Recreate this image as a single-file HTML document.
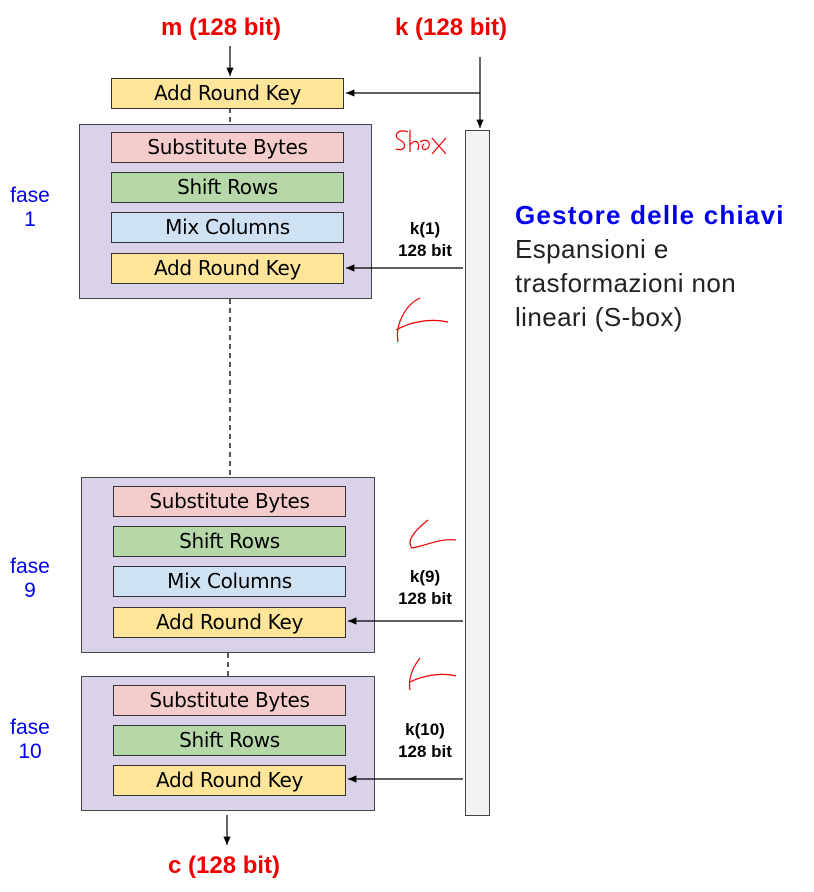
<!DOCTYPE html>
<html><head><meta charset="utf-8"><style>
body{margin:0;background:#fff;width:814px;height:892px;position:relative;overflow:hidden;font-family:"Liberation Sans",sans-serif}
.a{position:absolute}
.p{position:absolute;background:#d9d2e9;border:1.5px solid #444;box-sizing:border-box}
.b{position:absolute;width:233px;height:31px;border:1.5px solid #333;box-sizing:border-box;text-align:center;font-family:"DejaVu Sans",sans-serif;font-size:20px;line-height:29px;color:#000;letter-spacing:-0.3px}
.y{background:#ffe599}.r{background:#f4cccc}.g{background:#b6d7a8}.c{background:#cfe2f3}
.red{color:#e00;font-weight:bold;font-size:24px}
.f{color:#0000ee;font-size:21px;text-align:center;width:60px}
.k{font-weight:bold;font-size:17px;text-align:center;width:80px;line-height:22px}
</style></head><body>
<div class="a red" style="left:161px;top:14px">m (128 bit)</div>
<div class="a red" style="left:395px;top:14px">k (128 bit)</div>
<div class="a red" style="left:168px;top:852px">c (128 bit)</div>

<div class="b y" style="left:111px;top:78px">Add Round Key</div>

<div class="p" style="left:79px;top:124px;width:293px;height:175px"></div>
<div class="b r" style="left:111px;top:132px">Substitute Bytes</div>
<div class="b g" style="left:111px;top:172px">Shift Rows</div>
<div class="b c" style="left:111px;top:212px">Mix Columns</div>
<div class="b y" style="left:111px;top:253px">Add Round Key</div>

<div class="p" style="left:81px;top:477px;width:294px;height:176px"></div>
<div class="b r" style="left:113px;top:486px">Substitute Bytes</div>
<div class="b g" style="left:113px;top:526px">Shift Rows</div>
<div class="b c" style="left:113px;top:566px">Mix Columns</div>
<div class="b y" style="left:113px;top:607px">Add Round Key</div>

<div class="p" style="left:81px;top:676px;width:294px;height:135px"></div>
<div class="b r" style="left:113px;top:685px">Substitute Bytes</div>
<div class="b g" style="left:113px;top:725px">Shift Rows</div>
<div class="b y" style="left:113px;top:765px">Add Round Key</div>

<div class="a" style="left:465px;top:130px;width:25px;height:686px;background:#f3f3f3;border:1.5px solid #444;box-sizing:border-box"></div>

<div class="a f" style="left:0;top:184px">fase<br>1</div>
<div class="a f" style="left:0;top:555px">fase<br>9</div>
<div class="a f" style="left:0;top:716px">fase<br>10</div>

<div class="a k" style="left:385px;top:218px">k(1)<br>128 bit</div>
<div class="a k" style="left:385px;top:566px">k(9)<br>128 bit</div>
<div class="a k" style="left:385px;top:719px">k(10)<br>128 bit</div>

<div class="a" style="left:515px;top:198px;font-size:26px;line-height:34px;color:#222;letter-spacing:0.4px;white-space:nowrap">
<b style="color:#0000ee;font-size:26px;letter-spacing:1.2px">Gestore delle chiavi</b><br>Espansioni e<br>trasformazioni non<br>lineari (S-box)</div>

<svg class="a" style="left:0;top:0" width="814" height="892">
<defs><marker id="ar" markerWidth="8" markerHeight="8" refX="7" refY="4" orient="auto"><path d="M0,1 L7,4 L0,7z" fill="#000"/></marker></defs>
<g stroke="#000" stroke-width="1.2" fill="none">
<line x1="230" y1="46" x2="230" y2="76" marker-end="url(#ar)"/>
<line x1="480" y1="57" x2="480" y2="128" marker-end="url(#ar)"/>
<line x1="480" y1="93" x2="346" y2="93" marker-end="url(#ar)"/>
<line x1="463" y1="268" x2="346" y2="268" marker-end="url(#ar)"/>
<line x1="463" y1="621" x2="348" y2="621" marker-end="url(#ar)"/>
<line x1="463" y1="779" x2="348" y2="779" marker-end="url(#ar)"/>
<line x1="227" y1="815" x2="227" y2="845" marker-end="url(#ar)"/>
<g stroke-dasharray="5,4" stroke="#222" stroke-width="1.5"><line x1="230" y1="108" x2="230" y2="124"/><line x1="230" y1="299" x2="230" y2="477"/><line x1="228" y1="653" x2="228" y2="676"/></g>
</g>
<g stroke="#e00" stroke-width="1.2" fill="none">
<path d="M408,132 C398,128 392,136 400,140 C408,144 405,152 396,149 M410,130 L410,152 M410,145 C416,138 420,142 418,150 M420,142 C426,138 432,142 428,148 C424,152 420,148 424,144 M432,138 L446,154 M446,138 L432,154"/>
<path d="M420,298 C405,305 395,325 398,342 M396,330 C410,322 430,318 448,322"/>
<path d="M428,520 C418,528 405,540 412,548 C425,546 440,538 456,540"/>
<path d="M420,658 C412,668 408,680 410,690 M410,682 C422,676 440,672 456,676"/>
</g>
</svg>
</body></html>
